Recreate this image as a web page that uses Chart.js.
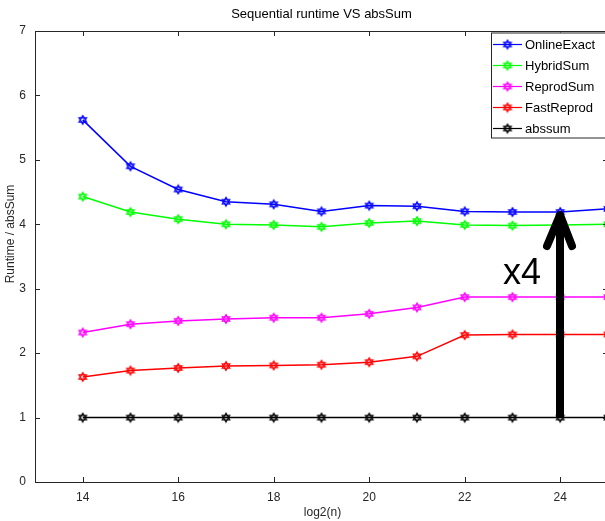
<!DOCTYPE html>
<html>
<head>
<meta charset="utf-8">
<script src="https://cdn.jsdelivr.net/npm/chart.js@4.4.0/dist/chart.umd.min.js"></script>
<style>
  html, body { margin: 0; padding: 0; background: #fff; overflow: hidden; }
  #wrap { width: 620px; height: 521px; }
</style>
</head>
<body>
<div id="wrap"><canvas id="mycanvas" width="620" height="521"></canvas></div>
<script>
// values
var log2n = [14, 15, 16, 17, 18, 19, 20, 21, 22, 23, 24, 25];
var onlineExact = [5.62, 4.90, 4.54, 4.35, 4.31, 4.20, 4.29, 4.28, 4.20, 4.19, 4.19, 4.24];
var hybridSum = [4.43, 4.19, 4.08, 4.00, 3.99, 3.96, 4.02, 4.05, 3.99, 3.98, 3.99, 4.00];
var reprodSum = [2.32, 2.45, 2.50, 2.53, 2.55, 2.55, 2.61, 2.71, 2.87, 2.87, 2.87, 2.87];
var fastReprod = [1.63, 1.73, 1.77, 1.80, 1.81, 1.82, 1.86, 1.95, 2.28, 2.29, 2.29, 2.29];
var absSum = [1, 1, 1, 1, 1, 1, 1, 1, 1, 1, 1, 1];
var seriesNames = ["OnlineExact", "HybridSum", "ReprodSum", "FastReprod", "abssum"];
var seriesColors = ["#0000ff", "#00ff00", "#ff00ff", "#ff0000", "#000000"];
var xTicks = [14, 16, 18, 20, 22, 24];
var yTicks = [0, 1, 2, 3, 4, 5, 6, 7];

var FONT = "'Liberation Sans', Arial, sans-serif";
var AXIS = "#262626";

// matlab style hexagram marker
function hexagram(color) {
  var c = document.createElement("canvas");
  c.width = 12;
  c.height = 12;
  var g = c.getContext("2d");
  g.strokeStyle = color;
  g.lineWidth = 1.2;
  for (var t = 0; t < 2; t++) {
    g.beginPath();
    for (var k = 0; k < 3; k++) {
      var a = -Math.PI / 2 + t * Math.PI + k * 2 * Math.PI / 3;
      var px = 6 + 4.4 * Math.cos(a), py = 6 + 4.4 * Math.sin(a);
      if (k == 0) g.moveTo(px, py); else g.lineTo(px, py);
    }
    g.closePath();
    g.stroke();
  }
  return c;
}

function points(vals) {
  var out = [];
  for (var i in log2n) out.push({ x: log2n[i], y: vals[i] });
  return out;
}

var allValues = [onlineExact, hybridSum, reprodSum, fastReprod, absSum];
var markers = [];
var datasets = [];
for (var s = 0; s < seriesNames.length; s++) {
  markers.push(hexagram(seriesColors[s]));
  datasets.push({
    label: seriesNames[s],
    data: points(allValues[s]),
    borderColor: seriesColors[s],
    backgroundColor: seriesColors[s],
    borderWidth: 1.5,
    pointStyle: markers[s],
    pointRadius: 5,
    tension: 0,
    fill: false
  });
}

// box, inward ticks, titles, legend and the x4 arrow
var decorations = {
  id: "decorations",
  afterDatasetsDraw: function(chart) {
    var ctx = chart.ctx, a = chart.chartArea;
    var xs = chart.scales.x, ys = chart.scales.y;
    ctx.save();

    ctx.strokeStyle = AXIS;
    ctx.lineWidth = 1;
    ctx.strokeRect(a.left + 0.5, a.top + 0.5, a.right - a.left, a.bottom - a.top);
    ctx.beginPath();
    for (var i in xTicks) {
      var px = Math.round(xs.getPixelForValue(xTicks[i])) + 0.5;
      ctx.moveTo(px, a.bottom); ctx.lineTo(px, a.bottom - 5);
      ctx.moveTo(px, a.top); ctx.lineTo(px, a.top + 5);
    }
    for (var j in yTicks) {
      var py = Math.round(ys.getPixelForValue(yTicks[j])) + 0.5;
      ctx.moveTo(a.left, py); ctx.lineTo(a.left + 5, py);
      ctx.moveTo(a.right, py); ctx.lineTo(a.right - 5, py);
    }
    ctx.stroke();

    // titles
    ctx.fillStyle = "#000";
    ctx.textAlign = "center";
    ctx.textBaseline = "middle";
    ctx.font = "13px " + FONT;
    ctx.fillText("Sequential runtime VS absSum", (a.left + a.right) / 2, 14);
    ctx.font = "12px " + FONT;
    ctx.fillStyle = AXIS;
    ctx.fillText("log2(n)", (a.left + a.right) / 2 + 1, 513);
    ctx.save();
    ctx.translate(11, 234);
    ctx.rotate(-Math.PI / 2);
    ctx.fillText("Runtime / absSum", 0, 0);
    ctx.restore();

    // legend box
    var lx = 491, ly = a.top + 1.5;
    ctx.fillStyle = "#fff";
    ctx.fillRect(lx, ly, 200, 106);
    ctx.strokeStyle = AXIS;
    ctx.strokeRect(lx + 0.5, ly + 0.5, 200, 105);
    ctx.font = "13px " + FONT;
    ctx.textAlign = "left";
    for (var k = 0; k < seriesNames.length; k++) {
      var ry = ly + 12 + k * 21;
      ctx.strokeStyle = seriesColors[k];
      ctx.lineWidth = 1.2;
      ctx.beginPath();
      ctx.moveTo(lx + 2, ry); ctx.lineTo(lx + 31, ry);
      ctx.stroke();
      ctx.drawImage(markers[k], lx + 16.5 - 6, ry - 6);
      ctx.fillStyle = "#000";
      ctx.fillText(seriesNames[k], lx + 34, ry + 1);
    }

    // arrow at 24 from abssum up to OnlineExact
    var ax = Math.round(xs.getPixelForValue(24));
    var yb = ys.getPixelForValue(absSum[10]);
    var yt = ys.getPixelForValue(onlineExact[10]);
    ctx.strokeStyle = "#000";
    ctx.lineWidth = 8;
    ctx.lineCap = "butt";
    ctx.beginPath();
    ctx.moveTo(ax, yb); ctx.lineTo(ax, yt + 6);
    ctx.stroke();
    ctx.lineCap = "round";
    ctx.lineJoin = "round";
    ctx.beginPath();
    ctx.moveTo(ax - 13, yt + 34);
    ctx.lineTo(ax, yt + 3);
    ctx.lineTo(ax + 12, yt + 34);
    ctx.stroke();

    ctx.fillStyle = "#000";
    ctx.font = "36px " + FONT;
    ctx.textAlign = "left";
    ctx.textBaseline = "alphabetic";
    ctx.fillText("x4", ax - 57, yt + 72);

    ctx.restore();
  }
};

var ctx = document.getElementById("mycanvas");

var LineGraph = new Chart(ctx, {
  type: "line",
  data: { datasets: datasets },
  options: {
    responsive: false,
    animation: false,
    devicePixelRatio: 1,
    layout: { padding: { top: 31, right: 12, left: 0, bottom: 0 } },
    plugins: {
      legend: { display: false },
      title: { display: false },
      tooltip: { enabled: false }
    },
    scales: {
      x: {
        type: "linear",
        min: 13,
        max: 25,
        afterBuildTicks: function(scale) {
          scale.ticks = xTicks.map(function(v) { return { value: v }; });
        },
        afterFit: function(scale) { scale.height = 39; },
        grid: { display: false, drawTicks: false },
        border: { display: false },
        ticks: { padding: 8, color: AXIS, font: { family: FONT, size: 12 }, maxRotation: 0 }
      },
      y: {
        min: 0,
        max: 7,
        afterBuildTicks: function(scale) {
          scale.ticks = yTicks.map(function(v) { return { value: v }; });
        },
        afterFit: function(scale) { scale.width = 35; },
        grid: { display: false, drawTicks: false },
        border: { display: false },
        ticks: { padding: 9, color: AXIS, font: { family: FONT, size: 12 } }
      }
    }
  },
  plugins: [decorations]
});
</script>
</body>
</html>
